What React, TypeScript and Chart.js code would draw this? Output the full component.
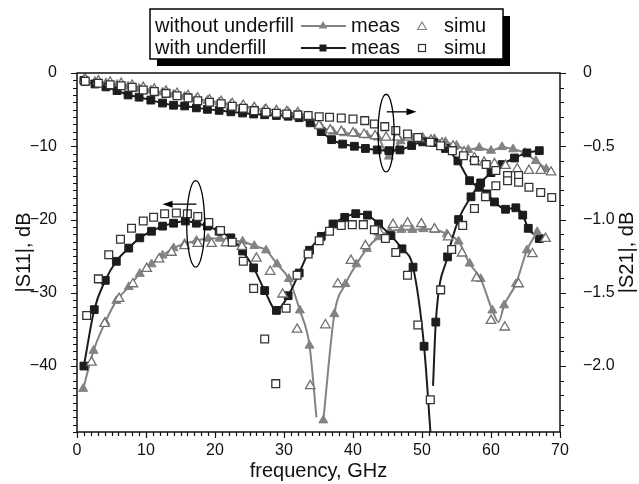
import React, { useEffect, useRef } from 'react';
import { Chart, registerables } from 'chart.js';

Chart.register(...registerables);

const FONT = "'Liberation Sans', Arial, Helvetica, sans-serif";
const BLACK = '#1c1c1c';
const GRAY = '#838383';
const TEXT = '#111111';

// ---------- axes ----------
const xMajorTicks = [0, 10, 20, 30, 40, 50, 60, 70];
const s11MajorTicks = [0, -10, -20, -30, -40];
const s21MajorTicks = [0, -0.5, -1.0, -1.5, -2.0];
const X_MIN = 0, X_MAX = 70, X_MINOR = 1;
const S11_MIN = -49, S11_MAX = 0, S11_MINOR = 1;
const S21_MIN = -2.45, S21_MAX = 0, S21_MINOR = 0.1;

// ---------- |S11| with underfill, measured ----------
const s11WithMeasFreq = [1.0, 2.5, 4.1, 5.7, 7.5, 9.1, 10.8, 12.4, 14.0, 15.7, 17.3, 18.9, 20.6, 22.3, 24.0, 25.6, 27.2, 28.9, 30.6, 32.2, 33.7, 35.4, 37.1, 38.8, 40.4, 42.1, 43.7, 45.5, 47.1, 48.7, 50.3, 51.3, 51.45, 51.6, 52.0, 53.7, 55.3, 57.1, 58.5, 60.0, 61.6, 63.4, 65.2, 67.0];
const s11WithMeasDb = [-40.0, -32.3, -28.3, -25.7, -23.9, -22.5, -21.6, -20.9, -20.5, -20.2, -20.5, -20.9, -21.6, -22.5, -24.3, -26.6, -29.7, -32.4, -30.4, -27.3, -24.2, -22.3, -20.6, -19.7, -19.2, -19.4, -20.6, -22.2, -24.0, -26.5, -37.3, -50.0, null, -42.7, -34.0, -25.1, -20.0, -16.9, -15.0, -13.6, -12.5, -11.6, -10.9, -10.6];
const s11WithMeasNoMarker = [51.3, 51.6];

// ---------- |S11| without underfill, measured ----------
const s11WithoutMeasFreq = [0.9, 2.4, 4.1, 5.7, 7.5, 9.1, 10.8, 12.4, 14.0, 15.6, 17.3, 19.0, 20.7, 22.4, 24.0, 25.7, 27.4, 29.0, 30.7, 32.3, 33.7, 34.7, 35.2, 35.7, 37.3, 38.9, 40.5, 42.0, 43.7, 45.3, 47.0, 48.6, 50.2, 51.9, 53.6, 55.3, 56.9, 58.5, 60.2, 61.1, 61.9, 63.6, 65.2, 66.7];
const s11WithoutMeasDb = [-43.1, -37.9, -34.0, -31.1, -29.2, -27.4, -26.1, -24.9, -23.9, -23.3, -22.9, -22.6, -22.6, -22.9, -23.0, -23.6, -24.2, -26.1, -28.1, -32.4, -37.2, -47.0, null, -47.4, -32.9, -28.8, -26.1, -24.0, -22.4, -21.6, -21.4, -21.4, -21.3, -21.4, -22.0, -23.0, -26.0, -28.1, -32.4, -34.0, -31.7, -28.8, -24.2, -21.7];
const s11WithoutMeasNoMarker = [34.7, 61.1];

// ---------- |S11| with underfill, simulated ----------
const s11WithSimFreq = [1.4, 3.1, 4.6, 6.3, 7.9, 9.6, 11.1, 12.7, 14.4, 16.0, 17.5, 19.1, 20.8, 22.5, 24.1, 25.6, 27.2, 28.8, 30.3, 31.9, 33.5, 35.1, 36.6, 38.3, 39.9, 41.5, 43.1, 44.7, 46.2, 47.9, 49.4, 51.2, 52.7, 54.3, 55.9, 57.6, 59.2, 60.7, 62.4, 64.0, 65.5, 67.2, 68.8];
const s11WithSimDb = [-33.1, -28.1, -24.8, -22.7, -21.2, -20.2, -19.7, -19.2, -19.1, -19.2, -19.6, -20.4, -21.5, -23.1, -25.7, -29.4, -36.3, -42.4, -32.1, -27.6, -24.7, -22.9, -21.6, -20.8, -20.7, -20.7, -21.4, -22.6, -24.5, -27.6, -34.4, -44.6, -29.6, -24.1, -20.8, -18.5, -16.9, -15.4, -14.7, -14.9, -15.6, -16.3, -17.0];

// ---------- |S11| without underfill, simulated ----------
const s11WithoutSimFreq = [2.1, 4.0, 6.1, 8.1, 10.1, 11.9, 13.7, 15.6, 17.5, 19.5, 21.6, 23.9, 26.0, 28.0, 29.8, 31.9, 33.8, 36.0, 37.8, 39.7, 41.8, 43.8, 45.8, 47.9, 49.9, 51.8, 53.8, 55.8, 57.9, 60.0, 62.0, 64.0, 66.0, 67.9];
const s11WithoutSimDb = [-39.5, -34.2, -30.8, -28.8, -26.7, -25.4, -24.5, -23.6, -23.3, -23.3, -23.2, -23.7, -25.3, -27.1, -30.2, -35.0, -42.7, -34.4, -28.8, -25.6, -23.6, -21.7, -20.7, -20.5, -20.6, -21.3, -22.4, -24.6, -28.0, -33.8, -34.7, -28.8, -24.7, -22.6];

// ---------- |S21| with underfill, measured ----------
const s21WithMeasFreq = [1.0, 2.6, 4.2, 5.8, 7.4, 9.0, 10.7, 12.4, 14.0, 15.6, 17.3, 18.9, 20.6, 22.3, 24.0, 25.6, 27.2, 28.9, 30.6, 32.2, 33.8, 35.4, 36.9, 38.5, 40.2, 41.8, 43.5, 45.2, 46.8, 48.5, 50.1, 51.7, 53.4, 55.2, 56.9, 58.3, 59.4, 60.5, 62.1, 63.6, 64.6, 65.4, 67.0];
const s21WithMeasDb = [-0.050, -0.075, -0.095, -0.120, -0.150, -0.165, -0.185, -0.205, -0.220, -0.225, -0.238, -0.248, -0.255, -0.265, -0.273, -0.280, -0.285, -0.290, -0.295, -0.305, -0.340, -0.400, -0.455, -0.485, -0.500, -0.515, -0.525, -0.530, -0.525, -0.495, -0.470, -0.475, -0.515, -0.600, -0.735, -0.780, -0.825, -0.880, -0.930, -0.920, -0.970, -1.060, -1.130];

// ---------- |S21| without underfill, measured ----------
const s21WithoutMeasFreq = [1.0, 2.6, 4.2, 5.8, 7.4, 9.0, 10.7, 12.4, 14.0, 15.6, 17.3, 18.9, 20.6, 22.3, 24.0, 25.6, 27.2, 28.9, 30.6, 32.2, 33.8, 35.4, 37.1, 38.7, 40.4, 42.0, 43.6, 45.2, 46.9, 48.5, 50.1, 51.8, 53.4, 55.0, 56.7, 58.3, 60.0, 61.6, 63.2, 64.9, 66.5, 68.0];
const s21WithoutMeasDb = [-0.045, -0.058, -0.068, -0.080, -0.092, -0.106, -0.118, -0.132, -0.146, -0.160, -0.175, -0.188, -0.200, -0.212, -0.224, -0.238, -0.248, -0.256, -0.265, -0.300, -0.335, -0.370, -0.400, -0.410, -0.415, -0.425, -0.440, -0.570, -0.465, -0.440, -0.440, -0.450, -0.470, -0.495, -0.525, -0.510, -0.530, -0.505, -0.520, -0.545, -0.600, -0.655];

// ---------- |S21| with underfill, simulated ----------
const s21WithSimFreq = [1.2, 3.1, 4.8, 6.4, 8.0, 9.6, 11.2, 12.9, 14.5, 16.1, 17.5, 19.2, 20.9, 22.5, 24.1, 25.7, 27.4, 28.9, 30.4, 32.0, 33.5, 35.1, 36.6, 38.3, 40.0, 41.7, 43.1, 44.6, 46.2, 47.9, 49.4, 51.2, 52.7, 54.4, 56.0, 57.6, 59.3, 60.7, 62.4, 64.0];
const s21WithSimDb = [-0.057, -0.070, -0.080, -0.087, -0.098, -0.116, -0.127, -0.139, -0.155, -0.170, -0.189, -0.200, -0.210, -0.227, -0.240, -0.257, -0.268, -0.275, -0.280, -0.286, -0.290, -0.298, -0.302, -0.307, -0.314, -0.325, -0.348, -0.366, -0.393, -0.416, -0.440, -0.473, -0.496, -0.530, -0.565, -0.598, -0.625, -0.665, -0.700, -0.700];

// ---------- |S21| without underfill, simulated ----------
const s21WithoutSimFreq = [1.2, 3.1, 4.8, 6.4, 8.0, 9.6, 11.2, 12.9, 14.5, 16.1, 17.5, 19.2, 20.9, 22.5, 24.1, 25.7, 27.4, 28.9, 30.4, 32.0, 33.5, 35.1, 36.7, 38.3, 40.0, 41.6, 43.2, 44.8, 46.4, 48.0, 49.6, 51.3, 52.9, 54.5, 56.1, 57.6, 59.0, 60.5, 62.1, 63.8, 65.5, 67.2, 68.7];
const s21WithoutSimDb = [-0.045, -0.055, -0.063, -0.072, -0.085, -0.100, -0.112, -0.125, -0.140, -0.155, -0.172, -0.185, -0.195, -0.210, -0.222, -0.238, -0.250, -0.258, -0.265, -0.272, -0.300, -0.360, -0.390, -0.400, -0.410, -0.420, -0.430, -0.440, -0.440, -0.440, -0.450, -0.460, -0.480, -0.500, -0.540, -0.580, -0.610, -0.620, -0.632, -0.655, -0.666, -0.666, -0.677];

// ---------- annotations (data coordinates) ----------
const s11Ellipse = { f: 17.2, db: -20.6, rf: 1.3, rdb: 5.9 };
const s11Arrow = { from: 17.3, to: 12.4, db: -17.9 };
const s21Ellipse = { f: 44.8, db: -8.2, rf: 1.16, rdb: 5.3 }; // expressed on |S11| scale
const s21Arrow = { from: 44.9, to: 49.2, db: -5.3 };

const legendRows = ['without underfill', 'with underfill'];
const legendMeas = 'meas';
const legendSimu = 'simu';
const xTitle = 'frequency, GHz';
const yTitle = '|S11|, dB';
const y2Title = '|S21|, dB';

const pts = (f: number[], v: (number | null)[]) => f.map((x, i) => ({ x, y: v[i] }));
const minus = (s: string) => s.replace('-', '\u2212');

function drawTri(ctx: CanvasRenderingContext2D, x: number, y: number, r: number) {
  ctx.beginPath();
  for (let k = 0; k < 3; k++) {
    const a = (k * 2 * Math.PI) / 3;
    const px = x + Math.sin(a) * r;
    const py = y - Math.cos(a) * r;
    if (k === 0) ctx.moveTo(px, py); else ctx.lineTo(px, py);
  }
  ctx.closePath();
}

function arrowHead(ctx: CanvasRenderingContext2D, x: number, y: number, dir: number) {
  ctx.beginPath();
  ctx.moveTo(x, y);
  ctx.lineTo(x - dir * 10, y - 3.5);
  ctx.lineTo(x - dir * 10, y + 3.5);
  ctx.closePath();
  ctx.fill();
}

const decorPlugin = {
  id: 'decor',
  afterDatasetsDraw(chart: any) {
    const ctx: CanvasRenderingContext2D = chart.ctx;
    const xs = chart.scales.x;
    const ys = chart.scales.y;
    ctx.save();
    ctx.strokeStyle = '#000';
    ctx.fillStyle = '#000';
    ctx.lineWidth = 1.3;
    for (const e of [s11Ellipse, s21Ellipse]) {
      const cx = xs.getPixelForValue(e.f);
      const cy = ys.getPixelForValue(e.db);
      const rx = Math.abs(xs.getPixelForValue(e.f + e.rf) - cx);
      const ry = Math.abs(ys.getPixelForValue(e.db + e.rdb) - cy);
      ctx.beginPath();
      ctx.ellipse(cx, cy, rx, ry, 0, 0, Math.PI * 2);
      ctx.stroke();
    }
    for (const a of [s11Arrow, s21Arrow]) {
      const x0 = xs.getPixelForValue(a.from);
      const x1 = xs.getPixelForValue(a.to);
      const y = ys.getPixelForValue(a.db);
      const dir = Math.sign(x1 - x0);
      ctx.beginPath();
      ctx.moveTo(x0, y);
      ctx.lineTo(x1 - dir * 8, y);
      ctx.stroke();
      arrowHead(ctx, x1, y, dir);
    }
    ctx.restore();
  },
  afterDraw(chart: any) {
    const ctx: CanvasRenderingContext2D = chart.ctx;
    const { left, right, top, bottom } = chart.chartArea;
    const xs = chart.scales.x;
    const ys = chart.scales.y;
    const y2 = chart.scales.y2;
    ctx.save();
    // frame
    ctx.strokeStyle = '#111';
    ctx.lineWidth = 1.5;
    ctx.strokeRect(left, top, right - left, bottom - top);
    // ticks
    ctx.lineWidth = 1.2;
    ctx.beginPath();
    const nx = Math.round((X_MAX - X_MIN) / X_MINOR);
    for (let i = 0; i <= nx; i++) {
      const v = X_MIN + i * X_MINOR;
      const px = Math.round(xs.getPixelForValue(v)) + 0.5;
      const major = xMajorTicks.includes(v);
      ctx.moveTo(px, bottom);
      ctx.lineTo(px, bottom + (major ? 6 : 4));
    }
    const ny = Math.round((S11_MAX - S11_MIN) / S11_MINOR);
    for (let i = 0; i <= ny; i++) {
      const v = S11_MAX - i * S11_MINOR;
      const py = Math.round(ys.getPixelForValue(v)) + 0.5;
      const major = s11MajorTicks.includes(v);
      ctx.moveTo(left, py);
      ctx.lineTo(left - (major ? 6 : 4), py);
    }
    const n2 = Math.floor((S21_MAX - S21_MIN) / S21_MINOR + 1e-6);
    for (let i = 0; i <= n2; i++) {
      const v = Math.round((S21_MAX - i * S21_MINOR) * 10) / 10;
      const py = Math.round(y2.getPixelForValue(v)) + 0.5;
      const major = s21MajorTicks.includes(v);
      ctx.moveTo(right, py);
      ctx.lineTo(right + (major ? 6 : 4), py);
    }
    ctx.stroke();

    // axis titles
    ctx.fillStyle = TEXT;
    ctx.font = `20px ${FONT}`;
    ctx.textAlign = 'center';
    ctx.textBaseline = 'middle';
    ctx.fillText(xTitle, (left + right) / 2, 471);
    const midY = (top + bottom) / 2;
    ctx.save();
    ctx.translate(24, midY);
    ctx.rotate(-Math.PI / 2);
    ctx.fillText(yTitle, 0, 0);
    ctx.restore();
    ctx.save();
    ctx.translate(627, midY);
    ctx.rotate(-Math.PI / 2);
    ctx.fillText(y2Title, 0, 0);
    ctx.restore();

    // legend box
    const LX = 150, LY = 9, LW = 353, LH = 50, SH = 7;
    ctx.fillStyle = '#000';
    ctx.fillRect(LX + SH, LY + SH, LW, LH);
    ctx.fillStyle = '#fff';
    ctx.fillRect(LX, LY, LW, LH);
    ctx.strokeStyle = '#000';
    ctx.lineWidth = 1.5;
    ctx.strokeRect(LX, LY, LW, LH);

    const rowY = [26, 48];
    ctx.fillStyle = TEXT;
    ctx.font = `20px ${FONT}`;
    ctx.textAlign = 'left';
    ctx.textBaseline = 'middle';
    legendRows.forEach((t, i) => {
      ctx.fillText(t, 155, rowY[i]);
      ctx.fillText(legendMeas, 351, rowY[i]);
      ctx.fillText(legendSimu, 444, rowY[i]);
    });
    // row 1: gray line + filled triangle, open triangle
    ctx.strokeStyle = GRAY;
    ctx.fillStyle = GRAY;
    ctx.lineWidth = 2;
    ctx.beginPath();
    ctx.moveTo(301, rowY[0]);
    ctx.lineTo(346, rowY[0]);
    ctx.stroke();
    drawTri(ctx, 323, rowY[0], 5);
    ctx.fill();
    ctx.lineWidth = 1.2;
    drawTri(ctx, 422, rowY[0] + 1, 5);
    ctx.fillStyle = '#fff';
    ctx.fill();
    ctx.stroke();
    // row 2: black line + filled square, open square
    ctx.strokeStyle = BLACK;
    ctx.fillStyle = BLACK;
    ctx.lineWidth = 2;
    ctx.beginPath();
    ctx.moveTo(301, rowY[1]);
    ctx.lineTo(346, rowY[1]);
    ctx.stroke();
    ctx.fillRect(323 - 3.5, rowY[1] - 3.5, 7, 7);
    ctx.lineWidth = 1.2;
    ctx.fillStyle = '#fff';
    ctx.fillRect(422 - 3.5, rowY[1] - 3.5, 7, 7);
    ctx.strokeStyle = '#333';
    ctx.strokeRect(422 - 3.5, rowY[1] - 3.5, 7, 7);
    ctx.restore();
  },
};

export default function App() {
  const ref = useRef<HTMLCanvasElement | null>(null);

  useEffect(() => {
    if (!ref.current) return;
    const radiusFn = (skip: number[], r: number) => (c: any) =>
      c.raw && skip.includes(c.raw.x) ? 0 : r;

    const simBase = { showLine: false, pointBorderWidth: 1.3 };
    const measBase = {
      showLine: true,
      borderWidth: 2,
      spanGaps: false,
      cubicInterpolationMode: 'monotone' as const,
      pointBorderWidth: 1,
    };
    const tickFont = { family: FONT, size: 16 };

    const chart = new Chart(ref.current, {
      type: 'scatter',
      data: {
        datasets: [
          {
            ...simBase,
            label: 'S11 with underfill simu',
            data: pts(s11WithSimFreq, s11WithSimDb),
            yAxisID: 'y',
            pointStyle: 'rect',
            pointRadius: 5.5,
            pointBackgroundColor: '#fff',
            pointBorderColor: '#333',
          },
          {
            ...simBase,
            label: 'S11 without underfill simu',
            data: pts(s11WithoutSimFreq, s11WithoutSimDb),
            yAxisID: 'y',
            pointStyle: 'triangle',
            pointRadius: 5.5,
            pointBackgroundColor: '#fff',
            pointBorderColor: '#707070',
          },
          {
            ...simBase,
            label: 'S21 with underfill simu',
            data: pts(s21WithSimFreq, s21WithSimDb),
            yAxisID: 'y2',
            pointStyle: 'rect',
            pointRadius: 5.5,
            pointBackgroundColor: '#fff',
            pointBorderColor: '#333',
          },
          {
            ...simBase,
            label: 'S21 without underfill simu',
            data: pts(s21WithoutSimFreq, s21WithoutSimDb),
            yAxisID: 'y2',
            pointStyle: 'triangle',
            pointRadius: 5.5,
            pointBackgroundColor: '#fff',
            pointBorderColor: '#707070',
          },
          {
            ...measBase,
            label: 'S11 with underfill meas',
            data: pts(s11WithMeasFreq, s11WithMeasDb),
            yAxisID: 'y',
            borderColor: BLACK,
            backgroundColor: BLACK,
            pointStyle: 'rect',
            pointRadius: radiusFn(s11WithMeasNoMarker, 5.5),
            pointBackgroundColor: BLACK,
            pointBorderColor: BLACK,
          },
          {
            ...measBase,
            label: 'S11 without underfill meas',
            data: pts(s11WithoutMeasFreq, s11WithoutMeasDb),
            yAxisID: 'y',
            borderColor: GRAY,
            backgroundColor: GRAY,
            pointStyle: 'triangle',
            pointRadius: radiusFn(s11WithoutMeasNoMarker, 5.2),
            pointBackgroundColor: GRAY,
            pointBorderColor: GRAY,
          },
          {
            ...measBase,
            label: 'S21 with underfill meas',
            data: pts(s21WithMeasFreq, s21WithMeasDb),
            yAxisID: 'y2',
            borderColor: BLACK,
            backgroundColor: BLACK,
            pointStyle: 'rect',
            pointRadius: 5.5,
            pointBackgroundColor: BLACK,
            pointBorderColor: BLACK,
          },
          {
            ...measBase,
            label: 'S21 without underfill meas',
            data: pts(s21WithoutMeasFreq, s21WithoutMeasDb),
            yAxisID: 'y2',
            borderColor: GRAY,
            backgroundColor: GRAY,
            pointStyle: 'triangle',
            pointRadius: 5.2,
            pointBackgroundColor: GRAY,
            pointBorderColor: GRAY,
          },
        ],
      },
      options: {
        animation: false,
        responsive: true,
        maintainAspectRatio: false,
        layout: { padding: { top: 73, left: 0, right: 0, bottom: 0 } },
        plugins: { legend: { display: false }, tooltip: { enabled: false } },
        scales: {
          x: {
            type: 'linear',
            position: 'bottom',
            min: X_MIN,
            max: X_MAX,
            grid: { display: false },
            border: { display: false },
            ticks: {
              color: TEXT,
              font: tickFont,
              padding: 1,
              maxRotation: 0,
              autoSkip: false,
              callback: (v: any) => String(v),
            },
            afterBuildTicks: (s: any) => {
              s.ticks = xMajorTicks.map((v) => ({ value: v }));
            },
            afterFit: (s: any) => {
              s.height = 52;
            },
          },
          y: {
            type: 'linear',
            position: 'left',
            min: S11_MIN,
            max: S11_MAX,
            grid: { display: false },
            border: { display: false },
            ticks: {
              color: TEXT,
              font: tickFont,
              padding: 12,
              autoSkip: false,
              callback: (v: any) => minus(String(v)),
            },
            afterBuildTicks: (s: any) => {
              s.ticks = s11MajorTicks.map((v) => ({ value: v }));
            },
            afterFit: (s: any) => {
              s.width = 77;
            },
          },
          y2: {
            type: 'linear',
            position: 'right',
            min: S21_MIN,
            max: S21_MAX,
            grid: { display: false },
            border: { display: false },
            ticks: {
              color: TEXT,
              font: tickFont,
              padding: 15,
              autoSkip: false,
              callback: (v: any) => (Number(v) === 0 ? '0' : minus(Number(v).toFixed(1))),
            },
            afterBuildTicks: (s: any) => {
              s.ticks = s21MajorTicks.map((v) => ({ value: v }));
            },
            afterFit: (s: any) => {
              s.width = 79;
            },
          },
        },
      },
      plugins: [decorPlugin],
    });
    return () => chart.destroy();
  }, []);

  return (
    <div style={{ position: 'fixed', left: 0, top: 0, width: 639, height: 484, background: '#fff' }}>
      <canvas ref={ref} />
    </div>
  );
}
